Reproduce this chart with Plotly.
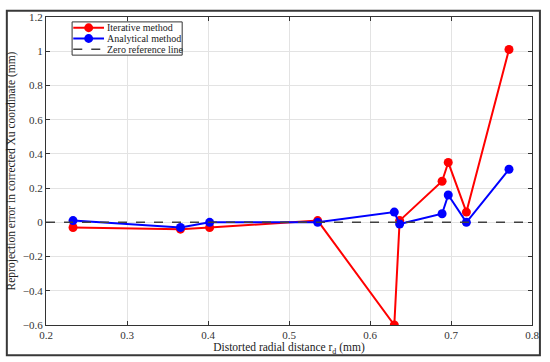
import plotly.graph_objects as go

r_d = [0.2334, 0.366, 0.402, 0.5354, 0.630, 0.6366, 0.689, 0.6966, 0.719, 0.7716]
iterative = [-0.03, -0.04, -0.03, 0.01, -0.60, 0.01, 0.24, 0.35, 0.06, 1.01]
analytical = [0.01, -0.03, 0.0, 0.0, 0.06, -0.01, 0.05, 0.16, 0.0, 0.31]
zero_x = [0.2, 0.8]
zero_y = [0, 0]
legend_labels = ["Iterative method", "Analytical method", "Zero reference line"]

font = "Liberation Serif"
RED = "#ff0000"
BLUE = "#0000ff"
GREY = "#404040"

fig = go.Figure()
fig.add_trace(go.Scatter(x=r_d, y=iterative, mode="lines+markers", name=legend_labels[0],
                         line=dict(color=RED, width=2), marker=dict(color=RED, size=9)))
fig.add_trace(go.Scatter(x=r_d, y=analytical, mode="lines+markers", name=legend_labels[1],
                         line=dict(color=BLUE, width=2), marker=dict(color=BLUE, size=9)))
fig.add_trace(go.Scatter(x=zero_x, y=zero_y, mode="lines", name=legend_labels[2],
                         line=dict(color=GREY, width=1.5, dash="dash")))

axis_common = dict(showgrid=True, gridcolor="#e3e3e3", gridwidth=1, zeroline=False,
                   showline=True, linecolor="#333333", linewidth=1, mirror="ticks",
                   ticks="inside", ticklen=4, tickcolor="#333333",
                   tickfont=dict(family=font, size=11, color="#333333"))

fig.update_xaxes(range=[0.2, 0.8], dtick=0.1, tickformat=".1f",
                 title=dict(text="Distorted radial distance r<sub>d</sub> (mm)",
                            font=dict(family=font, size=11.5, color="#222222"), standoff=2),
                 **axis_common)
fig.update_yaxes(range=[-0.6, 1.2], dtick=0.2,
                 title=dict(text="Reprojection error in corrected Xu coordinate (mm)",
                            font=dict(family=font, size=11.5, color="#222222"), standoff=4),
                 **axis_common)

# manual compact legend (paper coordinates)
lx0, lx1 = 0.0537, 0.2802
ly0, ly1 = 0.8762, 0.9841
rows = [0.9651, 0.9302, 0.8952]
sx0, sx1, mx = 0.0561, 0.1194, 0.0878
rx, ry = 0.0092, 0.0143
colors = [RED, BLUE, GREY]

shapes = [dict(type="rect", xref="paper", yref="paper",
               x0=-0.0806, x1=1.0163, y0=-0.0984, y1=1.0206,
               line=dict(color="#383838", width=2), layer="below"),
          dict(type="rect", xref="paper", yref="paper",
               x0=lx0, x1=lx1, y0=ly0, y1=ly1,
               line=dict(color="#333333", width=1), fillcolor="white", layer="above")]
annotations = []
for i, (yy, c, lab) in enumerate(zip(rows, colors, legend_labels)):
    shapes.append(dict(type="line", xref="paper", yref="paper", x0=sx0, x1=sx1, y0=yy, y1=yy,
                       line=dict(color=c, width=2 if i < 2 else 1.5,
                                 dash="solid" if i < 2 else "dash")))
    if i < 2:
        shapes.append(dict(type="circle", xref="paper", yref="paper",
                           x0=mx - rx, x1=mx + rx, y0=yy - ry, y1=yy + ry,
                           fillcolor=c, line=dict(color=c, width=0)))
    annotations.append(dict(xref="paper", yref="paper", x=0.1224, y=yy, text=lab,
                            showarrow=False, xanchor="left", yanchor="middle",
                            font=dict(family=font, size=10, color="#222222")))

fig.update_layout(
    width=550, height=362,
    margin=dict(l=46, r=14, t=11, b=36),
    paper_bgcolor="white", plot_bgcolor="white",
    font=dict(family=font),
    showlegend=False,
    shapes=shapes,
    annotations=annotations,
)

fig.write_html("out.html", config={"displayModeBar": False},
               post_script="document.body.style.margin='0';")
